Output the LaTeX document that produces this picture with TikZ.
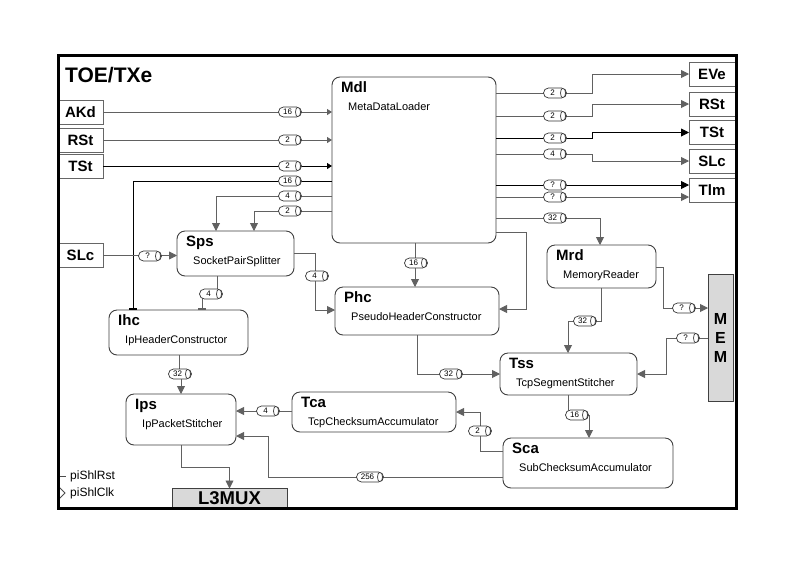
\documentclass[tikz,border=0pt]{standalone}
\usepackage{fontspec}
\setmainfont{Liberation Sans}
\usetikzlibrary{arrows.meta,calc}

% block: name, x1, y1, x2, y2, short name, long name
\newcommand\mkblock[7]{%
  \node[blk,minimum width={(#4-#2)*1pt},minimum height={(#5-#3)*1pt}] (#1) at ({(#2+#4)/2},{(#3+#5)/2}) {};
  \node[btitle,anchor=base west] (#1t) at ([shift={(9,15)}]#1.north west) {#6};
  \node[bsub,anchor=base west] (#1s) at ([shift={(16,33)}]#1.north west) {#7};}

\begin{document}
\begin{tikzpicture}[x=1pt,y=-1pt,
  blk/.style={draw=black!75,line width=0.9pt,rounded corners=8pt,fill=white,inner sep=0pt,outer sep=0pt},
  grayblk/.style={draw=black!75,line width=0.9pt,fill=black!15,inner sep=0pt,outer sep=0pt},
  port/.style={draw=black!60,line width=1pt,fill=white,inner sep=0pt,outer sep=0pt,minimum height=24pt,font=\fontsize{15}{18}\selectfont\bfseries},
  btitle/.style={inner sep=0pt,font=\fontsize{15}{18}\selectfont\bfseries},
  bsub/.style={inner sep=0pt,font=\fontsize{11}{13}\selectfont},
  clk/.style={inner sep=0pt,font=\fontsize{12}{14}\selectfont},
  wire/.style={draw=black!62,line width=0.9pt},
  wirek/.style={draw=black,line width=0.9pt},
  arr/.style={-{Triangle[length=8pt,width=8pt]}},
  sarr/.style={-{Triangle[length=5pt,width=6pt]}},
  barend/.style={-{Rectangle[length=2pt,width=8pt]}},
  bustext/.style={inner sep=0pt,xshift=-2.5pt,font=\fontsize{8}{9}\selectfont},
  bus/.style={draw=black!80,line width=0.7pt,fill=white,rounded corners=5pt,
    minimum width=23pt,minimum height=10pt,inner sep=0pt,outer sep=0pt,
    path picture={\draw[black!80,line width=0.7pt] ([xshift=-3.5pt]path picture bounding box.east) ellipse [x radius=2.5pt,y radius=5pt];},
    label={[bustext]center:#1}}
]
\useasboundingbox (0,0) rectangle (794,560);
\fill[white] (0,0) rectangle (794,560);

% ---- blocks ----
\mkblock{mdl}{332}{77}{496}{243}{Mdl}{MetaDataLoader}
\mkblock{sps}{177}{231}{294}{276}{Sps}{SocketPairSplitter}
\mkblock{ihc}{109}{310}{248}{355}{Ihc}{IpHeaderConstructor}
\mkblock{phc}{335}{287}{499}{335}{Phc}{PseudoHeaderConstructor}
\mkblock{mrd}{547}{245}{656}{288}{Mrd}{MemoryReader}
\mkblock{tss}{500}{353}{637}{395}{Tss}{TcpSegmentStitcher}
\mkblock{tca}{292}{392}{456}{432}{Tca}{TcpChecksumAccumulator}
\mkblock{sca}{503}{438}{673}{488}{Sca}{SubChecksumAccumulator}
\mkblock{ips}{126}{394}{236}{445}{Ips}{IpPacketStitcher}

\node[grayblk,minimum width=25pt,minimum height=127pt,align=center,
      font=\fontsize{16}{19}\selectfont\bfseries] (mem) at (720.5,337.5) {M\\E\\M};
\node[grayblk,minimum width=115pt,minimum height=20pt,
      font=\fontsize{18.5}{20}\selectfont\bfseries] (l3mux) at (229.5,498.5) {L3MUX};

% ---- ports ----
\node[port,minimum width=45pt] (akd) at (80.5,112) {AKd};
\node[port,minimum width=45pt] (rst) at (80.5,140) {RSt};
\node[port,minimum width=45pt] (tst) at (80.5,166) {TSt};
\node[port,minimum width=45pt] (slc) at (80.5,255.5) {SLc};
\node[port,minimum width=46pt] (eve) at (712,74) {EVe};
\node[port,minimum width=46pt] (rsto) at (712,104) {RSt};
\node[port,minimum width=46pt] (tsto) at (712,132.5) {TSt};
\node[port,minimum width=46pt] (slco) at (712,161) {SLc};
\node[port,minimum width=46pt] (tlm) at (712,190.5) {Tlm};

% ---- connectors ----
\draw[wire,sarr] (akd) -- (akd -| mdl.west);
\draw[wire,sarr] (rst) -- (rst -| mdl.west);
\draw[wirek,sarr] (tst) -- (tst -| mdl.west);
\draw[wirek,barend] (mdl.west |- 0,181) -| ([xshift=24pt]ihc.north west);
\draw[wire,arr] (mdl.west |- 0,196) -| ([xshift=39pt]sps.north west);
\draw[wire,arr] (mdl.west |- 0,211) -| ([xshift=77pt]sps.north west);
\draw[wire,arr] (slc) -- (slc -| sps.west);
\draw[wire,barend] ([xshift=40pt]sps.south west) -- ++(0,18) -| ([xshift=93pt]ihc.north west);
\draw[wire,arr] (sps.east |- 0,253) -- ++(21,0) |- (phc.west |- 0,310);
\draw[wire,arr] ([xshift=83pt]mdl.south west) -- ([xshift=83pt]mdl.south west |- phc.north);
\draw[wire,arr] (mdl.east |- 0,232) -- ++(30,0) |- (phc.east |- 0,309);
\draw[wire,arr] (mdl.east |- 0,218) -| ([xshift=53pt]mrd.north west);

\draw[wire,arr] (mdl.east |- 0,93) -- ++(96,0) |- (eve);
\draw[wire,arr] (mdl.east |- 0,116) -- ++(96,0) |- (rsto);
\draw[wirek,arr] (mdl.east |- 0,138) -- ++(96,0) |- (tsto);
\draw[wire,arr] (mdl.east |- 0,154) -- ++(96,0) |- (slco);
\draw[wirek,arr] (mdl.east |- 0,185) -- (tlm.west |- 0,185);
\draw[wire,arr] (mdl.east |- 0,197) -- (tlm.west |- 0,197);

\draw[wire,arr] (mrd.east |- 0,267) -- ++(7,0) |- (mem.west |- 0,308);
\draw[wire,arr] (mem.west |- 0,338) -- ++(-42,0) |- (tss.east |- 0,374);
\draw[wire,arr] ([xshift=54pt]mrd.south west) -- ++(0,33) -| ([xshift=68pt]tss.north west);
\draw[wire,arr] ([xshift=82pt]phc.south west) |- (tss.west |- 0,374);
\draw[wire,arr] ([xshift=68pt]tss.south west) -- ++(0,20) -| ([xshift=86pt]sca.north west);
\draw[wire,arr] (sca.west |- 0,451) -- ++(-23,0) |- (tca.east |- 0,412);
\draw[wire,arr] (tca.west |- 0,411) -- (ips.east |- 0,411);
\draw[wire,arr] (sca.west |- 0,477) -- ++(-235,0) |- (ips.east |- 0,436);
\draw[wire,arr] ([xshift=70pt]ihc.south west) -- ++(0,19) -| ([xshift=55pt]ips.north west);
\draw[wire,arr] ([xshift=55pt]ips.south west) -- ++(0,22) -| (l3mux.north);

% ---- bus widths ----
\node[bus=16] (k1) at (290,112) {};
\node[bus=2] (k2) at (290,140) {};
\node[bus=2] (k3) at (290,166) {};
\node[bus=16] (k4) at (290,181) {};
\node[bus=4] (k5) at (290,196) {};
\node[bus=2] (k6) at (290,211) {};
\node[bus=?] (k7) at (150,256) {};
\node[bus=4] (k8) at (211,294) {};
\node[bus=4] (k9) at (317,276) {};
\node[bus=16] (k10) at (416,263) {};
\node[bus=2] (k11) at (555,93) {};
\node[bus=2] (k12) at (555,116) {};
\node[bus=2] (k13) at (555,138) {};
\node[bus=4] (k14) at (555,154) {};
\node[bus=?] (k15) at (555,185) {};
\node[bus=?] (k16) at (555,197) {};
\node[bus=32] (k17) at (555,218) {};
\node[bus=?] (k18) at (684,308) {};
\node[bus=?] (k19) at (688,338) {};
\node[bus=32] (k20) at (585,321) {};
\node[bus=32] (k21) at (451,374) {};
\node[bus=16] (k22) at (577,415) {};
\node[bus=2] (k23) at (480,431) {};
\node[bus=4] (k24) at (268,411) {};
\node[bus=256,minimum width=27pt] (k25) at (370,477) {};
\node[bus=32] (k26) at (180,374) {};

% ---- clock and reset ----
\draw[black!70,line width=0.8pt] (58,476) -- (66,476);
\draw[black!70,line width=0.8pt] (58,486) -- (65,493) -- (58,500);
\node[clk,anchor=west] (pirst) at (70,476) {piShlRst};
\node[clk,anchor=west] (piclk) at (70,493) {piShlClk};

% ---- frame and title ----
\draw[line width=3pt] (58,55) rectangle (736,508);
\node[anchor=base west,inner sep=0pt,font=\fontsize{21}{24}\selectfont\bfseries] (ttl) at (65,82) {TOE/TXe};
\end{tikzpicture}
\end{document}
